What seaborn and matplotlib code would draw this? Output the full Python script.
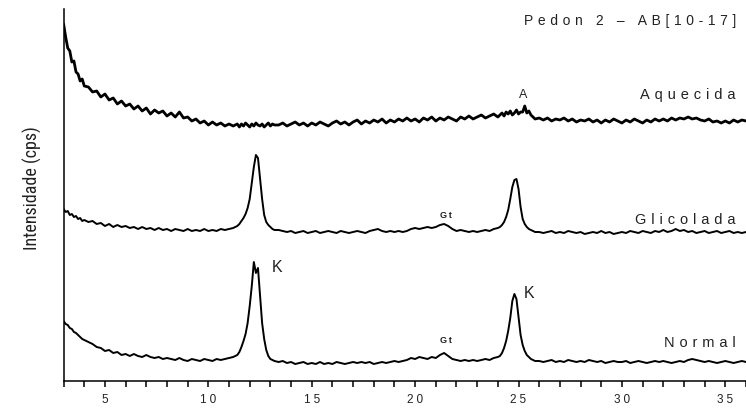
import numpy as np
import pandas as pd
import matplotlib
matplotlib.use("Agg")
import matplotlib.pyplot as plt
import seaborn as sns
from matplotlib import font_manager as fm
from matplotlib.ticker import MultipleLocator, FixedLocator, FixedFormatter

# ---- 2-theta sampling grid (degrees) ----
seg_a = np.round(np.arange(3.0, 4.0001, 0.1), 2)     # 11
seg_b = np.round(np.arange(4.2, 11.4001, 0.2), 2)    # 37
seg_c = np.round(np.arange(11.5, 13.2001, 0.1), 2)   # 18
seg_d = np.round(np.arange(13.4, 24.0001, 0.2), 2)   # 54
seg_e = np.round(np.arange(24.1, 25.8001, 0.1), 2)   # 18
seg_f = np.round(np.arange(26.0, 36.0001, 0.2), 2)   # 51
two_theta = np.concatenate([seg_a, seg_b, seg_c, seg_d, seg_e, seg_f])

# ---- intensities (arbitrary units, stacked as in the figure) ----
aquecida = [
    357, 344, 333, 330, 319, 320, 309, 307, 300, 302, 295,
    294, 289, 290, 284, 287, 281, 283, 277, 280, 275,
    277, 272, 275, 270, 273, 267, 271, 268, 270, 265,
    268, 264, 269, 263, 264, 260, 262, 258, 260, 256,
    259, 256, 258, 255, 257, 255, 257,
    254, 257, 255, 258, 256, 254, 257, 255, 258, 256,
    255, 257, 254, 256, 258, 255, 257, 256,
    256, 258, 255, 257, 259, 256, 258, 255, 258, 256,
    259, 257, 255, 258, 260, 257, 259, 256, 259, 261,
    257, 260, 258, 261, 259, 262, 258, 261, 259, 262,
    260, 263, 260, 262, 259, 263, 261, 264, 260, 263,
    261, 264, 262, 260, 264, 262, 265, 262, 264, 266,
    263, 265, 267, 264,
    266, 268, 265, 269, 267, 270, 266, 268, 271, 267,
    269, 269, 275, 268, 270, 266, 264, 262,
    263, 261, 263, 260, 262, 261, 263, 260, 262, 259,
    261, 260, 262, 259, 261, 258, 261, 259, 262, 260,
    258, 261, 259, 262, 260, 258, 261, 259, 262, 260,
    262, 260, 263, 261, 263, 262, 264, 262, 263, 261,
    260, 262, 259, 260, 258, 260, 258, 261, 259, 261, 260,
]
glicolada = [
    172, 169, 170, 166, 167, 164, 165, 162, 163, 160, 161,
    159, 160, 157, 158, 155, 157, 154, 156, 154, 155,
    153, 154, 152, 154, 152, 153, 151, 153, 151, 152,
    150, 152, 151, 150, 152, 150, 151, 150, 152, 150,
    151, 150, 152, 151, 152, 153, 155,
    157, 160, 163, 167, 173, 182, 198, 214, 226, 223,
    203, 182, 166, 159, 156, 154, 152, 151,
    151, 150, 149, 150, 148, 149, 150, 148, 149, 150,
    148, 149, 150, 149, 148, 150, 149, 148, 149, 150,
    149, 148, 150, 151, 152, 150, 149, 150, 149, 150,
    149, 150, 152, 153, 152, 153, 154, 153, 154, 156,
    157, 155, 152, 150, 151, 150, 149, 150, 149, 150,
    151, 150, 152, 153,
    154, 156, 159, 164, 171, 182, 194, 201, 202, 192,
    174, 162, 157, 154, 152, 151, 150, 149,
    149, 148, 149, 150, 148, 149, 148, 150, 149, 148,
    149, 147, 148, 149, 148, 150, 148, 149, 147, 148,
    149, 148, 150, 149, 148, 150, 149, 148, 150, 149,
    151, 149, 150, 152, 150, 151, 149, 150, 148, 149,
    150, 148, 149, 150, 148, 149, 150, 148, 149, 148, 149,
]
normal = [
    60, 57, 56, 53, 52, 49, 48, 46, 44, 42, 41,
    39, 37, 34, 33, 30, 31, 28, 29, 26, 27,
    25, 27, 25, 24, 26, 24, 23, 24, 22, 23,
    22, 21, 23, 21, 20, 22, 21, 20, 22, 21,
    20, 22, 21, 22, 23, 24, 26,
    29, 34, 40, 47, 58, 75, 95, 119, 108, 113,
    85, 58, 42, 31, 25, 22, 21, 20,
    19, 20, 18, 19, 17, 18, 19, 17, 18, 17,
    19, 17, 18, 17, 19, 18, 17, 18, 19, 18,
    19, 18, 19, 17, 18, 19, 18, 19, 20, 19,
    20, 21, 23, 22, 24, 23, 22, 24, 23, 26,
    28, 25, 22, 21, 20, 21, 20, 21, 20, 21,
    22, 21, 23, 24,
    25, 28, 33, 40, 50, 63, 80, 87, 82, 64,
    46, 36, 30, 26, 24, 22, 21, 20,
    20, 19, 20, 21, 19, 20, 19, 21, 20, 19,
    20, 19, 21, 20, 19, 20, 18, 19, 20, 19,
    19, 20, 18, 19, 20, 19, 18, 19, 20, 19,
    20, 19, 18, 19, 20, 19, 21, 22, 21, 20,
    19, 20, 19, 18, 19, 20, 19, 18, 19, 20, 19,
]
series_names = ["Aquecida", "Glicolada", "Normal"]
tick_values = [5, 10, 15, 20, 25, 30, 35]
tick_labels = ["5", "10", "15", "20", "25", "30", "35"]
title_text = "Pedon 2 – AB[10-17]"
ylabel_text = "Intensidade (cps)"

assert len(aquecida) == len(two_theta) == len(glicolada) == len(normal), (
    len(two_theta), len(aquecida), len(glicolada), len(normal))

df = pd.concat([
    pd.DataFrame({"two_theta": two_theta, "intensity": vals, "amostra": name})
    for name, vals in zip(series_names, [aquecida, glicolada, normal])
], ignore_index=True)

sns.set_style("white")
plt.rcParams["font.family"] = ["Liberation Sans", "DejaVu Sans"]

SP = "\u2004"
def spaced(s, sp=SP):
    return sp.join(list(s))

# pick a narrow font for the y label if one is installed
font_entries = fm.fontManager.ttflist
names = {f.name for f in font_entries}
ylab_kw = dict(fontsize=11, family=["Liberation Sans", "DejaVu Sans"])
if "Liberation Sans Narrow" in names:
    ylab_kw = dict(fontsize=13, family=["Liberation Sans Narrow", "DejaVu Sans"])
elif "Roboto Condensed" in names:
    ylab_kw = dict(fontsize=13, family=["Roboto Condensed", "DejaVu Sans"])
elif any(f.name == "DejaVu Sans" and f.stretch == "condensed" for f in font_entries):
    ylab_kw = dict(fontsize=12.5, family=["DejaVu Sans"], fontstretch="condensed")

fig = plt.figure(figsize=(7.46, 4.10), dpi=100)
ax = fig.add_axes([63.6 / 746, 28 / 410, (746 - 63.6) / 746, 372 / 410])

sns.lineplot(data=df, x="two_theta", y="intensity", hue="amostra",
             palette={n: "black" for n in series_names}, estimator=None,
             linewidth=1.4, legend=False, ax=ax)
ax.lines[0].set_linewidth(2.0)

ax.set_xlim(3, 36)
ax.set_ylim(0, 372)
for s in ["top", "right"]:
    ax.spines[s].set_visible(False)
for s in ["left", "bottom"]:
    ax.spines[s].set_color("black")
    ax.spines[s].set_linewidth(1.1)

ax.xaxis.set_major_locator(FixedLocator(tick_values))
ax.xaxis.set_major_formatter(FixedFormatter([spaced(t, "\u2005") for t in tick_labels]))
ax.xaxis.set_minor_locator(MultipleLocator(1))
ax.tick_params(axis="x", which="both", direction="out", length=4, width=1.1,
               color="black", bottom=True, labelsize=8.5, pad=5, labelcolor="#222222")
ax.set_yticks([])
ax.set_xlabel("")
ax.set_ylabel(ylabel_text, color="#222222", **ylab_kw)
ax.yaxis.set_label_coords(-0.032, 0.52)

txt_color = "#222222"
ax.text(0.985, 0.971, spaced(title_text), transform=ax.transAxes, ha="right", va="center",
        fontsize=10, color=txt_color)
ax.text(35.5, 287, spaced("Aquecida"), ha="right", va="center", fontsize=10.5, color=txt_color)
ax.text(35.5, 162, spaced("Glicolada"), ha="right", va="center", fontsize=10.5, color=txt_color)
ax.text(35.5, 39, spaced("Normal"), ha="right", va="center", fontsize=10.5, color=txt_color)
ax.text(25.24, 287, "A", ha="center", va="center", fontsize=9, color=txt_color)
ax.text(21.47, 166, "G\u2009t", ha="center", va="center", fontsize=6.5, weight="bold", color=txt_color)
ax.text(21.47, 41, "G\u2009t", ha="center", va="center", fontsize=6.5, weight="bold", color=txt_color)
ax.text(13.31, 114, "K", ha="center", va="center", fontsize=11.5, color=txt_color)
ax.text(25.53, 88, "K", ha="center", va="center", fontsize=11.5, color=txt_color)

fig.savefig("out.png", dpi=100)
